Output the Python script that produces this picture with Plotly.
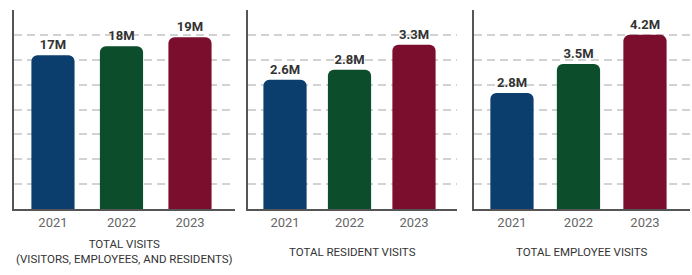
import plotly.graph_objects as go

years = ["2021", "2022", "2023"]
total_visits = [17, 18, 19]
total_labels = ["17M", "18M", "19M"]
resident_visits = [2.6, 2.8, 3.3]
resident_labels = ["2.6M", "2.8M", "3.3M"]
employee_visits = [2.8, 3.5, 4.2]
employee_labels = ["2.8M", "3.5M", "4.2M"]
titles = ["TOTAL VISITS<br>(VISITORS, EMPLOYEES, AND RESIDENTS)",
          "TOTAL RESIDENT VISITS", "TOTAL EMPLOYEE VISITS"]

colors = ["#0b3e6d", "#0c4d2c", "#7c0e2d"]
FONT = "Roboto, Liberation Sans Narrow, DejaVu Sans Condensed, sans-serif"
W, H = 692, 275

panels = [
    dict(vals=total_visits, labels=total_labels, px=(14, 235), xr=[-0.569, 2.657], ymax=22.0, bw=0.63),
    dict(vals=resident_visits, labels=resident_labels, px=(248, 457), xr=[-0.574, 2.667], ymax=4.0, bw=0.67),
    dict(vals=employee_visits, labels=employee_labels, px=(474, 690), xr=[-0.571, 2.677], ymax=4.8, bw=0.65),
]

fig = go.Figure()
ydom = [1 - 209 / H, 1 - 10 / H]
for i, p in enumerate(panels):
    n = "" if i == 0 else str(i + 1)
    fig.add_trace(go.Bar(
        x=years, y=p["vals"], text=p["labels"], textposition="outside",
        texttemplate="%{text}", cliponaxis=False, width=p["bw"],
        marker=dict(color=colors, line=dict(width=0)),
        textfont=dict(family=FONT, size=13, color="#333333", weight="bold"),
        xaxis="x" + n, yaxis="y" + n, showlegend=False, hoverinfo="skip",
    ))
    fig.layout["xaxis" + n] = dict(
        domain=[p["px"][0] / W, p["px"][1] / W], range=p["xr"], type="category",
        showline=True, linecolor="#555555", linewidth=2, showgrid=False,
        ticks="", tickfont=dict(family=FONT, size=13, color="#666666"),
        anchor="y" + n, fixedrange=True,
    )
    fig.layout["yaxis" + n] = dict(
        domain=ydom, range=[0, p["ymax"]], tickmode="linear", tick0=0, dtick=p["ymax"] / 8,
        showticklabels=False, showline=True, linecolor="#555555", linewidth=2,
        showgrid=True, gridcolor="#d2d2d2", gridwidth=1.5, griddash="8px,5px",
        zeroline=False, anchor="x" + n, fixedrange=True,
    )

title_pos = [((14 + 235) / 2, 251), ((248 + 457) / 2, 252), ((474 + 690) / 2, 252)]
for (cx, cy), t in zip(title_pos, titles):
    fig.add_annotation(
        x=cx / W, y=1 - cy / H, xref="paper", yref="paper", text=t, showarrow=False,
        font=dict(family=FONT, size=11.5, color="#333333"), xanchor="center", yanchor="middle",
    )

fig.update_layout(
    width=W, height=H, margin=dict(l=0, r=0, t=0, b=0),
    paper_bgcolor="white", plot_bgcolor="white", barcornerradius=6,
)
fig.write_html("out.html", config={"displayModeBar": False},
               post_script="document.body.style.margin='0';")
